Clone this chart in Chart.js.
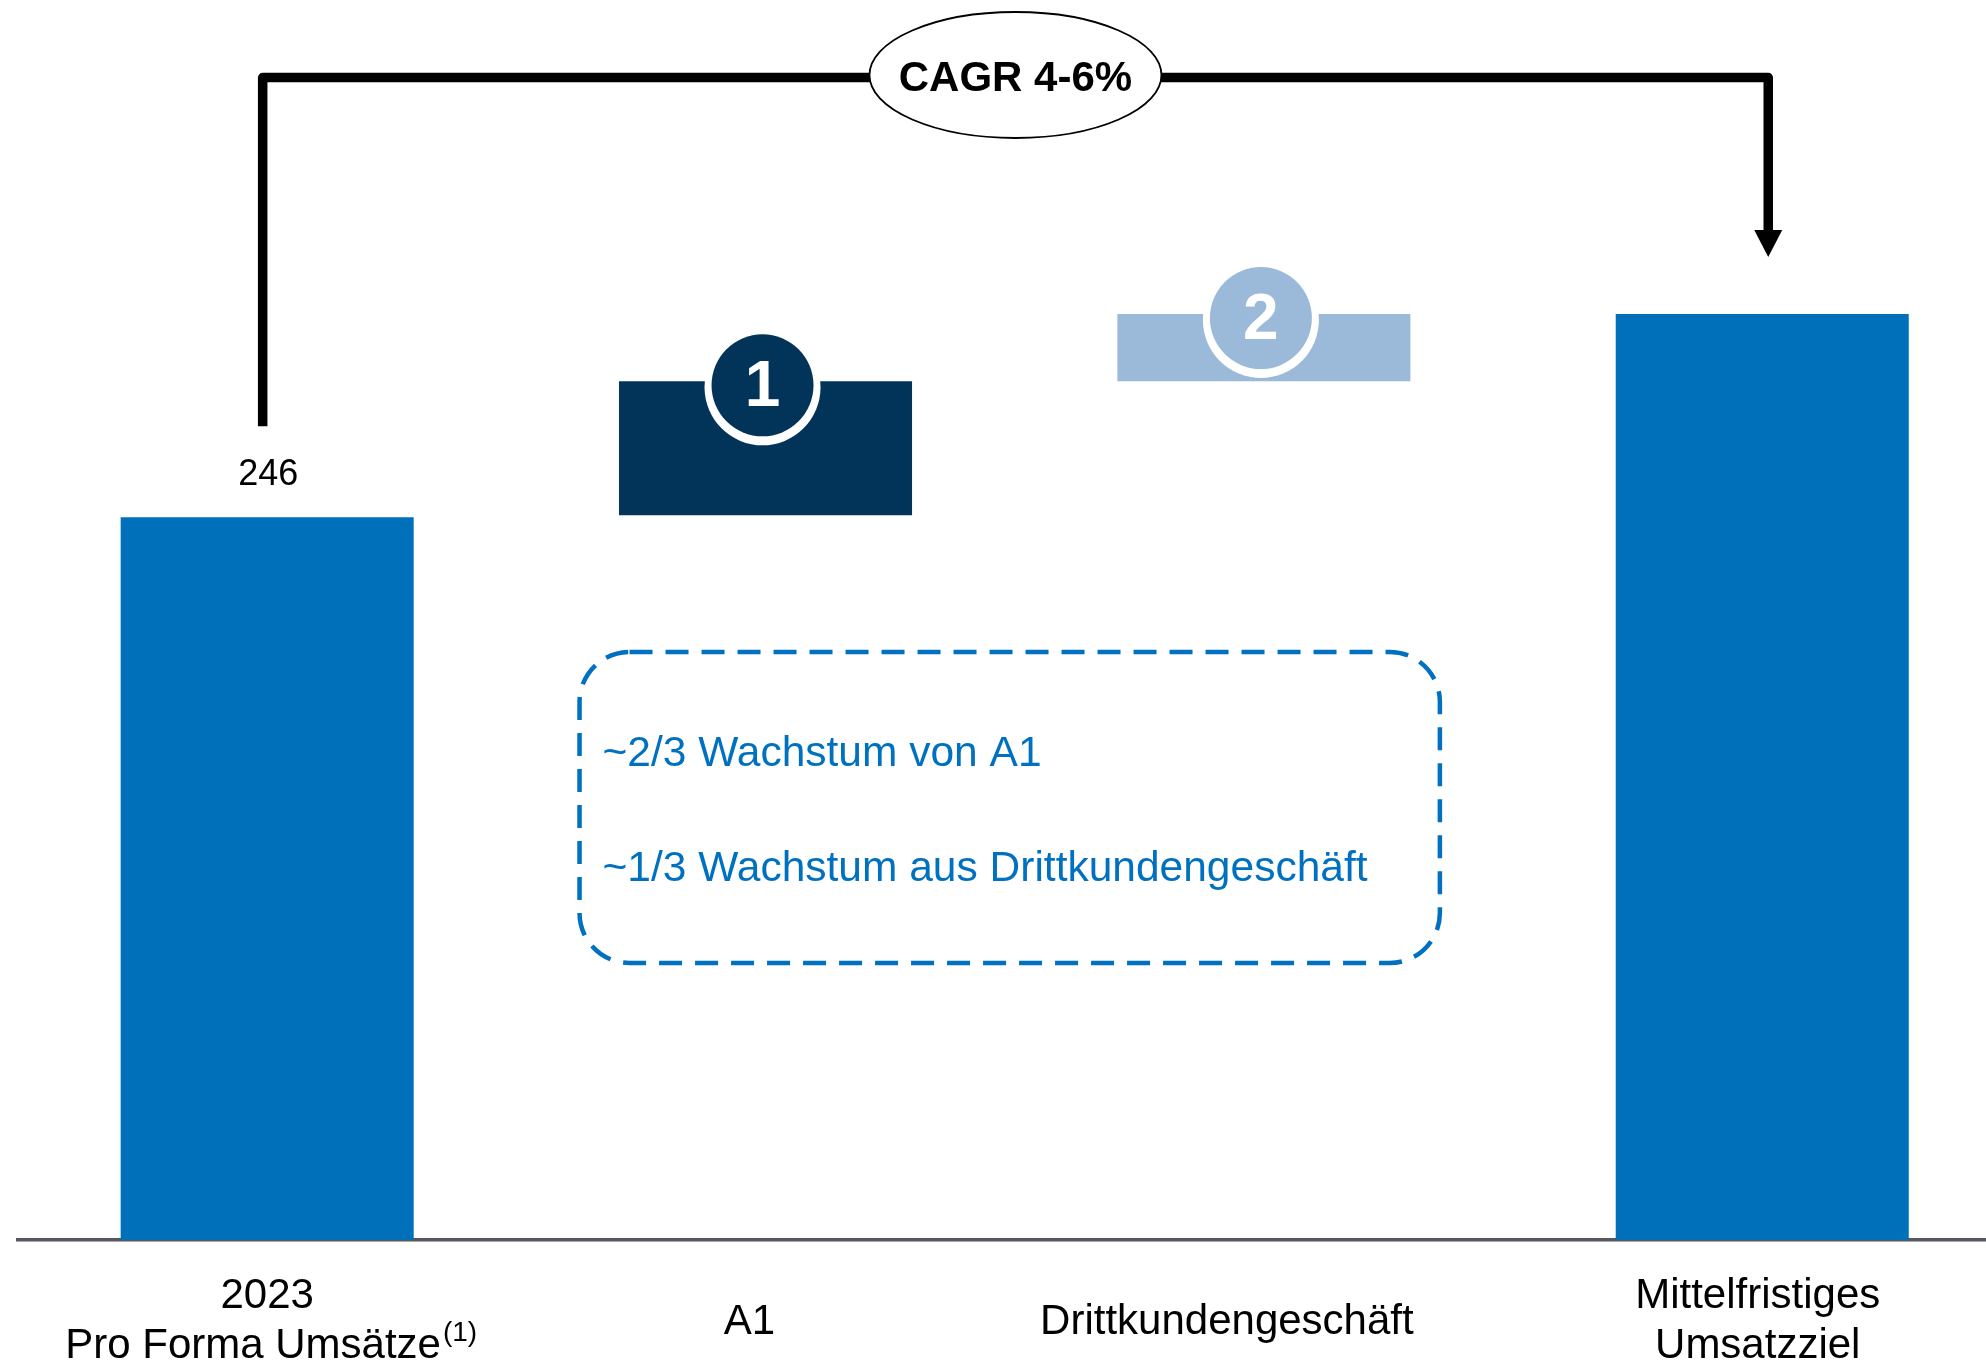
<!DOCTYPE html>
<html><head><meta charset="utf-8">
<script src="https://cdn.jsdelivr.net/npm/chart.js@4/dist/chart.umd.min.js"></script>
<style>html,body{margin:0;padding:0;background:#fff;overflow:hidden}#wrap{width:1986px;height:1362px;position:relative}</style>
</head><body><div id="wrap"><canvas id="c" width="1986" height="1362"></canvas></div>
<script>
// ---- data ----
const categories = [["2023", "Pro Forma Umsätze"], ["A1"], ["Drittkundengeschäft"], ["Mittelfristiges", "Umsatzziel"]];
const categoryFootnotes = ["(1)", "", "", ""];
const barStarts = [0, 246.7, 292.3, 0];
const barEnds = [246, 292.3, 315.2, 315.2];
const valueLabels = ["246", "", "", ""];
const badgeLabels = ["", "1", "2", ""];
const cagrLabel = "CAGR 4-6%";
const noteLines = ["~2/3 Wachstum von A1", "~1/3 Wachstum aus Drittkundengeschäft"];

// ---- styles ----
const barColors = ["#0070BA", "#02345A", "#9BB9D8", "#0070BA"];
const FONT = '"Liberation Sans", Arial, Helvetica, sans-serif';
const labelDx = [0, -16, -37, -4.5];

const decor = {
  id: 'decor',
  afterDatasetsDraw(chart) {
    const ctx = chart.ctx;
    const xs = chart.scales.x, ys = chart.scales.y;
    const cx = i => xs.getPixelForValue(i);
    const cy = v => ys.getPixelForValue(v);
    ctx.save();

    // value label
    ctx.fillStyle = '#000';
    ctx.font = '36px ' + FONT;
    ctx.textAlign = 'center';
    ctx.textBaseline = 'middle';
    valueLabels.forEach((t, i) => { if (t) ctx.fillText(t, cx(i) + 1, cy(barEnds[i]) - 42); });

    // badges
    badgeLabels.forEach((t, i) => {
      if (!t) return;
      const x = cx(i) - 3, y = cy(barEnds[i]) + 5;
      ctx.beginPath(); ctx.arc(x, y + 1, 58, 0, Math.PI * 2); ctx.fillStyle = '#fff'; ctx.fill();
      ctx.beginPath(); ctx.arc(x, y - 1, 51, 0, Math.PI * 2); ctx.fillStyle = barColors[i]; ctx.fill();
      ctx.fillStyle = '#fff';
      ctx.font = 'bold 64px ' + FONT;
      ctx.textAlign = 'center'; ctx.textBaseline = 'middle';
      ctx.fillText(t, x, y + 2);
    });

    // CAGR bracket
    const x1 = cx(0) - 4.5, x2 = cx(3) + 6;
    const yb = cy(barEnds[0]) - 91;
    const yt = 77.5;
    const tip = cy(barEnds[3]) - 57;
    ctx.strokeStyle = '#000'; ctx.lineWidth = 9.5; ctx.lineJoin = 'round'; ctx.lineCap = 'butt';
    ctx.beginPath(); ctx.moveTo(x1, yb); ctx.lineTo(x1, yt); ctx.lineTo(x2, yt); ctx.lineTo(x2, tip - 26); ctx.stroke();
    ctx.beginPath(); ctx.moveTo(x2 - 14, tip - 27); ctx.lineTo(x2 + 14, tip - 27); ctx.lineTo(x2, tip); ctx.closePath();
    ctx.fillStyle = '#000'; ctx.fill();
    const ex = (x1 + x2) / 2;
    ctx.beginPath(); ctx.ellipse(ex, 75, 146, 63, 0, 0, Math.PI * 2);
    ctx.fillStyle = '#fff'; ctx.fill(); ctx.lineWidth = 1.8; ctx.stroke();
    ctx.fillStyle = '#000'; ctx.font = 'bold 42px ' + FONT; ctx.textAlign = 'center'; ctx.textBaseline = 'middle';
    ctx.fillText(cagrLabel, ex, 79);

    // dashed note box
    const bx0 = cx(1) - 186, bx1 = cx(2) + 176, by0 = 652, by1 = 963, r = 50;
    ctx.strokeStyle = '#0070C0'; ctx.lineWidth = 4.5; ctx.setLineDash([23, 13]);
    ctx.beginPath();
    ctx.moveTo(bx0 + r, by0); ctx.lineTo(bx1 - r, by0); ctx.arcTo(bx1, by0, bx1, by0 + r, r);
    ctx.lineTo(bx1, by1 - r); ctx.arcTo(bx1, by1, bx1 - r, by1, r);
    ctx.lineTo(bx0 + r, by1); ctx.arcTo(bx0, by1, bx0, by1 - r, r);
    ctx.lineTo(bx0, by0 + r); ctx.arcTo(bx0, by0, bx0 + r, by0, r);
    ctx.stroke(); ctx.setLineDash([]);
    ctx.fillStyle = '#0070C0'; ctx.font = '42.5px ' + FONT; ctx.textAlign = 'left'; ctx.textBaseline = 'alphabetic';
    noteLines.forEach((t, k) => ctx.fillText(t, bx0 + 23, 766 + k * 115));

    // category labels
    const base = chart.chartArea.bottom;
    ctx.fillStyle = '#000'; ctx.textBaseline = 'middle';
    categories.forEach((lines, i) => {
      const x = cx(i) + labelDx[i];
      const ys0 = lines.length === 1 ? [base + 82] : [base + 56, base + 106];
      lines.forEach((t, k) => {
        const isLast = k === lines.length - 1;
        const sup = isLast ? categoryFootnotes[i] : '';
        ctx.font = '42px ' + FONT;
        const w = ctx.measureText(t).width;
        let sw = 0;
        if (sup) { ctx.font = '28px ' + FONT; sw = ctx.measureText(sup).width + 2; }
        const left = x - (w + sw) / 2 + (sup ? 4 : 0);
        ctx.font = '42px ' + FONT; ctx.textAlign = 'left';
        ctx.fillText(t, left, ys0[k]);
        if (sup) { ctx.font = '28px ' + FONT; ctx.fillText(sup, left + w + 2, ys0[k] - 13); }
      });
    });
    ctx.restore();
  }
};

new Chart(document.getElementById('c'), {
  type: 'bar',
  data: {
    datasets: [{
      data: barStarts.map((s, i) => ({ x: i, y: [s, barEnds[i]] })),
      backgroundColor: barColors,
      borderWidth: 0,
      barPercentage: 0.588,
      categoryPercentage: 1
    }]
  },
  options: {
    responsive: false,
    animation: false,
    devicePixelRatio: 1,
    layout: { padding: { left: 18, right: 0, top: 0, bottom: 0 } },
    plugins: { legend: { display: false }, tooltip: { enabled: false } },
    scales: {
      x: {
        type: 'linear', min: -0.5, max: 3.449, offset: false,
        afterBuildTicks: s => { s.ticks = [0, 1, 2, 3].map(v => ({ value: v })); },
        afterFit: s => { s.height = 122; },
        grid: { display: false, offset: false },
        ticks: { display: false },
        border: { display: true, color: '#55585E', width: 3.5 }
      },
      y: { display: false, min: 0, max: 422.1 }
    }
  },
  plugins: [decor]
});
</script>
</body></html>
